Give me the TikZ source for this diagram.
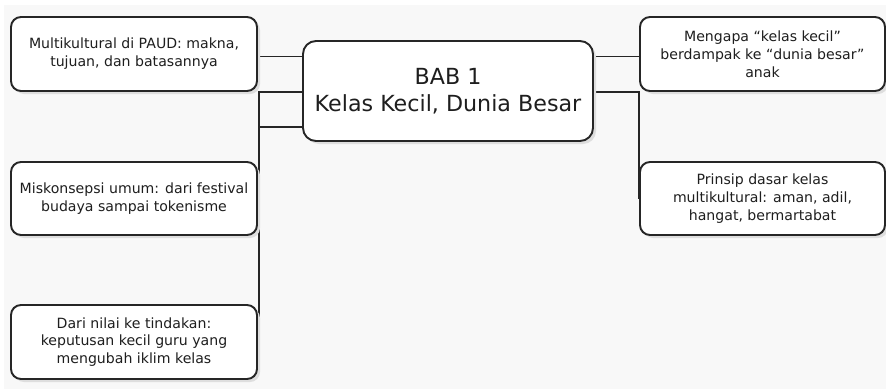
\documentclass[tikz,border=0pt]{standalone}
\usepackage{fontspec}
\setmainfont{DejaVu Sans}
\usetikzlibrary{shadows}
\definecolor{bgray}{HTML}{F8F8F8}
\definecolor{ink}{HTML}{1E1E1E}
\definecolor{edge}{HTML}{262626}
\pgfdeclarelayer{bglayer}
\pgfdeclarelayer{linelayer}
\pgfsetlayers{bglayer,linelayer,main}
\tikzset{
  box/.style={draw=edge, line width=1.9pt, fill=white, rounded corners=10pt,
    text=ink, align=center, inner sep=2pt,
    font=\fontsize{14.1}{17.8}\selectfont,
    drop shadow={shadow xshift=3pt, shadow yshift=-3pt, fill=black!13, opacity=1}},
  centerbox/.style={box, rounded corners=13pt, font=\fontsize{22.2}{27}\selectfont},
  link/.style={draw=edge, line width=1.9pt}
}
\begin{document}
\begin{tikzpicture}[x=1pt, y=-1pt]
\useasboundingbox (0,0) rectangle (886,389);
\begin{pgfonlayer}{bglayer}
  \fill[white] (0,0) rectangle (886,389);
  \fill[bgray] (4,5) rectangle (886,389);
\end{pgfonlayer}
\node[centerbox, minimum width=290pt, minimum height=100pt] (C) at (448,91) {BAB 1\\Kelas Kecil, Dunia Besar};
\node[box, minimum width=246pt, minimum height=74pt] (L1) at (134,54) {Multikultural di PAUD: makna,\\tujuan, dan batasannya};
\node[box, minimum width=246pt, minimum height=73pt] (L2) at (134,198.5) {Miskonsepsi umum: dari festival\\budaya sampai tokenisme};
\node[box, minimum width=246pt, minimum height=74pt] (L3) at (134,342) {Dari nilai ke tindakan:\\keputusan kecil guru yang\\mengubah iklim kelas};
\node[box, minimum width=245pt, minimum height=74pt] (R1) at (762.5,54) {Mengapa “kelas kecil”\\berdampak ke “dunia besar”\\anak};
\node[box, minimum width=245pt, minimum height=73pt] (R2) at (762.5,198.5) {Prinsip dasar kelas\\multikultural: aman, adil,\\hangat, bermartabat};
\begin{pgfonlayer}{linelayer}
  \draw[link] ([yshift=-2.5pt]L1.east) -- ([yshift=-2.5pt]L1.east -| C.west);
  \draw[link] ([yshift=-1pt]C.west) -| ([xshift=1pt]L2.east);
  \draw[link] ([yshift=-36pt]C.west) -| ([xshift=1pt]L3.east);
  \draw[link] ([yshift=-2.5pt]R1.west) -- ([yshift=-2.5pt]R1.west -| C.east);
  \draw[link] ([yshift=-1pt]C.east) -| (R2.west);
\end{pgfonlayer}
\end{tikzpicture}
\end{document}
